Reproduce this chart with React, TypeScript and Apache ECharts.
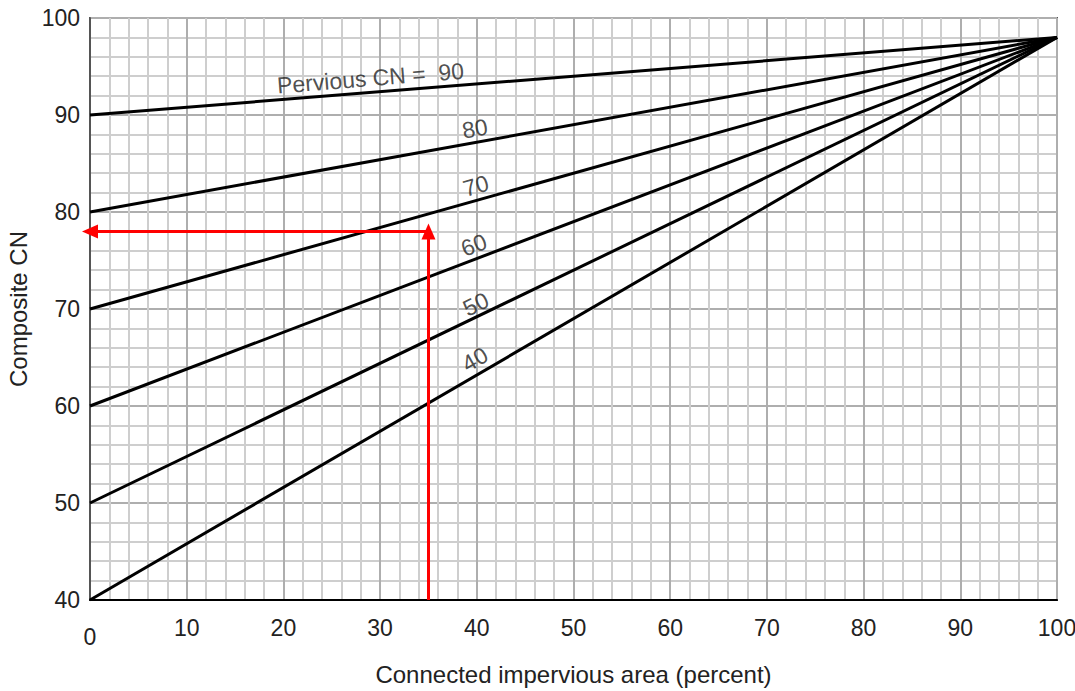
import React, { useEffect, useRef } from "react";
import * as echarts from "echarts";

const perviousCN = [90, 80, 70, 60, 50, 40];
const xRange = [0, 100];
const endCN = 98;
const lineLabels = ["Pervious CN =  90", "80", "70", "60", "50", "40"];
const labelX = [29.0, 39.8, 39.9, 39.7, 39.9, 39.8];
const labelY = [93.8, 88.6, 82.7, 76.6, 70.5, 64.8];
const labelAngle = [4.6, 10.2, 15.7, 20.9, 25.7, 30.2];
const exampleImpervious = 35;
const exampleComposite = 78;
const xTicks = [0, 10, 20, 30, 40, 50, 60, 70, 80, 90, 100];
const yTicks = [40, 50, 60, 70, 80, 90, 100];

const FONT = "'Liberation Sans', Arial, Helvetica, sans-serif";
const TXT = "#222";

export default function App() {
  const ref = useRef<HTMLDivElement>(null);
  useEffect(() => {
    if (!ref.current) return;
    const chart = echarts.init(ref.current, null, { renderer: "svg" });
    const lineSeries = perviousCN.map((cn) => ({
      type: "line",
      data: [
        [xRange[0], cn],
        [xRange[1], endCN],
      ],
      symbol: "none",
      lineStyle: { color: "#000", width: 3 },
      z: 3,
    }));
    const labelSeries = {
      type: "scatter",
      symbolSize: 0,
      z: 4,
      data: lineLabels.map((t, i) => ({
        value: [labelX[i], labelY[i]],
        name: t,
        label: {
          show: true,
          formatter: t,
          position: "inside",
          rotate: labelAngle[i],
          fontSize: 23,
          color: TXT,
          fontFamily: FONT,
        },
      })),
    };
    const arrowSeries = {
      type: "line",
      data: [],
      markLine: {
        silent: true,
        symbol: ["none", "triangle"],
        symbolSize: [14, 16],
        label: { show: false },
        lineStyle: { color: "#ff0000", width: 3, type: "solid" },
        data: [
          [
            { coord: [exampleImpervious, yTicks[0]] },
            { coord: [exampleImpervious, exampleComposite] },
          ],
          [
            { coord: [exampleImpervious, exampleComposite] },
            { coord: [xRange[0], exampleComposite] },
          ],
        ],
      },
      z: 5,
    };
    chart.setOption({
      animation: false,
      backgroundColor: "#fff",
      grid: {
        left: 90,
        right: 18,
        top: 18,
        bottom: 91,
        show: true,
        borderColor: "#555",
        borderWidth: 2,
        backgroundColor: "transparent",
        outerBoundsMode: "none",
        containLabel: false,
      },
      xAxis: {
        type: "value",
        min: xTicks[0],
        max: xTicks[xTicks.length - 1],
        interval: 10,
        name: "Connected impervious area (percent)",
        nameLocation: "middle",
        nameGap: 62,
        nameTextStyle: { fontSize: 24, color: TXT, fontFamily: FONT },
        axisLine: { show: true, lineStyle: { color: "#000", width: 2 } },
        axisTick: { show: false },
        axisLabel: {
          fontSize: 23,
          color: TXT,
          margin: 16,
          fontFamily: FONT,
          formatter: (v: number) => (v === 0 ? "{z|0}" : String(v)),
          rich: { z: { fontSize: 23, color: TXT, fontFamily: FONT, padding: [9, 0, 0, 0] } },
        },
        splitLine: { show: true, lineStyle: { color: "#aeaeae", width: 2 } },
        minorTick: { show: false, splitNumber: 5 },
        minorSplitLine: { show: true, lineStyle: { color: "#cecece", width: 2 } },
      },
      yAxis: {
        type: "value",
        min: yTicks[0],
        max: yTicks[yTicks.length - 1],
        interval: 10,
        name: "Composite CN",
        nameLocation: "middle",
        nameGap: 57,
        nameRotate: 90,
        nameTextStyle: { fontSize: 24, color: TXT, fontFamily: FONT },
        axisLine: { show: true, lineStyle: { color: "#555", width: 2 } },
        axisTick: { show: false },
        axisLabel: { fontSize: 23, color: TXT, margin: 10, fontFamily: FONT },
        splitLine: { show: true, lineStyle: { color: "#aeaeae", width: 2 } },
        minorTick: { show: false, splitNumber: 5 },
        minorSplitLine: { show: true, lineStyle: { color: "#cecece", width: 2 } },
      },
      series: [...lineSeries, labelSeries, arrowSeries],
    });
    return () => chart.dispose();
  }, []);
  return (
    <div
      ref={ref}
      style={{ position: "absolute", left: 0, top: 0, width: 1075, height: 691 }}
    />
  );
}
